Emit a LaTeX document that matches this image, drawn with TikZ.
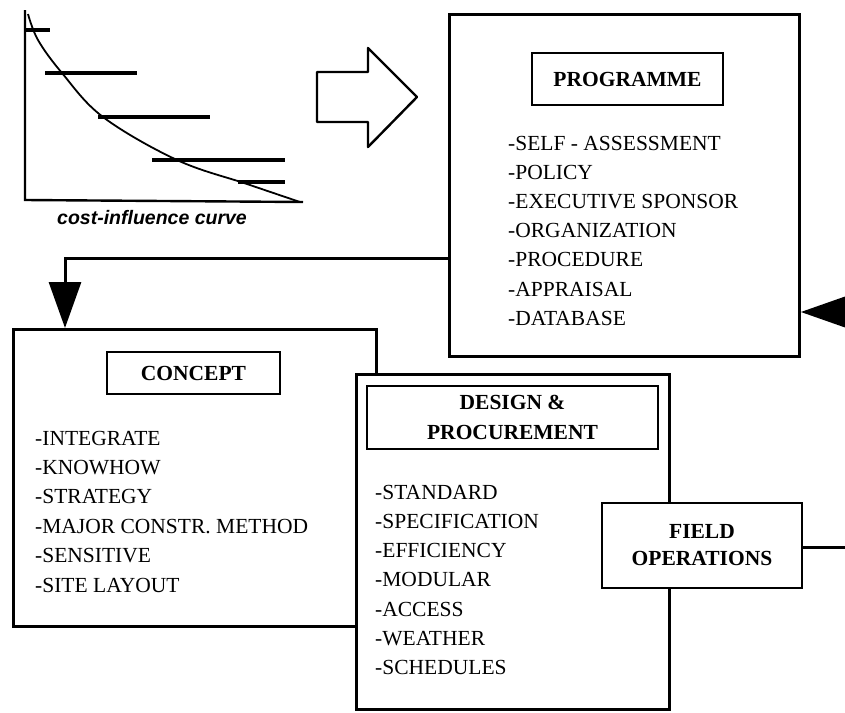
\documentclass[tikz,border=0pt]{standalone}
\usepackage{fontspec}
\setmainfont{Liberation Serif}
\setsansfont{Liberation Sans}
\usetikzlibrary{arrows.meta}
\begin{document}
\begin{tikzpicture}[x=1pt,y=-1pt,
  box/.style={draw, line width=2.8pt, fill=white, inner sep=0pt},
  tbox/.style={draw, line width=2.2pt, fill=white, inner sep=0pt, font=\fontsize{21.5}{30}\selectfont\bfseries, align=center},
  item/.style={anchor=base west, inner sep=0pt, font=\fontsize{21.5}{26}\selectfont},
  conn/.style={line width=3pt},
  bigtip/.style={-{Triangle[width=32pt,length=46pt]}}
]
\useasboundingbox (0,0) rectangle (845,712);

% cost-influence curve
\draw[line width=2.4pt] (25,10) -- (25,200) -- (303,202);
\draw[line width=1.8pt] plot[smooth, tension=0.6] coordinates {(28,14) (38,40) (62,73) (103,117) (177,160) (247,184) (300,202)};
\draw[line width=4pt] (25,30) -- (50,30);
\draw[line width=4pt] (45,73) -- (137,73);
\draw[line width=4pt] (98,117) -- (210,117);
\draw[line width=4pt] (152,160) -- (285,160);
\draw[line width=4pt] (238,182) -- (285,182);
\node[font=\fontsize{19.5}{22}\selectfont\sffamily\itshape\bfseries] (cic) at (152,218) {cost-influence curve};

% block arrow
\draw[line width=2.4pt, line join=round] (317,72) -- (368,72) -- (368,48) -- (417,97) -- (368,147) -- (368,122) -- (317,122) -- cycle;

% PROGRAMME
\node[box, anchor=north west, minimum width=350pt, minimum height=342pt] (prog) at (448,13) {};
\node[tbox, minimum width=191pt, minimum height=52pt] (progT) at (627.5,79) {PROGRAMME};
\foreach \t [count=\i from 0] in {-SELF - ASSESSMENT,-POLICY,-EXECUTIVE SPONSOR,-ORGANIZATION,-PROCEDURE,-APPRAISAL,-DATABASE}
  \node[item] (p\i) at (508,{150+29.2*\i}) {\t};

% CONCEPT
\node[box, anchor=north west, minimum width=363pt, minimum height=297pt] (concept) at (12,328) {};
\node[tbox, minimum width=173pt, minimum height=42pt] (conceptT) at (193.5,373) {CONCEPT};
\foreach \t [count=\i from 0] in {-INTEGRATE,-KNOWHOW,-STRATEGY,-MAJOR CONSTR. METHOD,-SENSITIVE,-SITE LAYOUT}
  \node[item] (c\i) at (35,{445+29.4*\i}) {\t};

% DESIGN & PROCUREMENT
\node[box, anchor=north west, minimum width=313pt, minimum height=335pt] (design) at (355,373) {};
\node[tbox, minimum width=291pt, minimum height=63pt] (designT) at (512.5,417.5) {DESIGN \&\\PROCUREMENT};
\foreach \t [count=\i from 0] in {-STANDARD,-SPECIFICATION,-EFFICIENCY,-MODULAR,-ACCESS,-WEATHER,-SCHEDULES}
  \node[item] (d\i) at (375,{499+29.3*\i}) {\t};

% FIELD OPERATIONS
\node[box, minimum width=200pt, minimum height=85pt, align=center, font=\fontsize{21.5}{27}\selectfont\bfseries] (fo) at (702,545.5) {FIELD\\OPERATIONS};

% connectors
\coordinate (k1) at (65,258);
\draw[conn, bigtip] (prog.west |- k1) -- (k1) -- (k1 |- concept.north);
\coordinate (k2) at (845,312);
\draw[conn, -{Triangle[width=30pt,length=44pt]}] (k2) -- (k2 -| prog.east);
\coordinate (k3) at (845,547);
\draw[conn] (fo.east |- k3) -- (k3);
\end{tikzpicture}
\end{document}
